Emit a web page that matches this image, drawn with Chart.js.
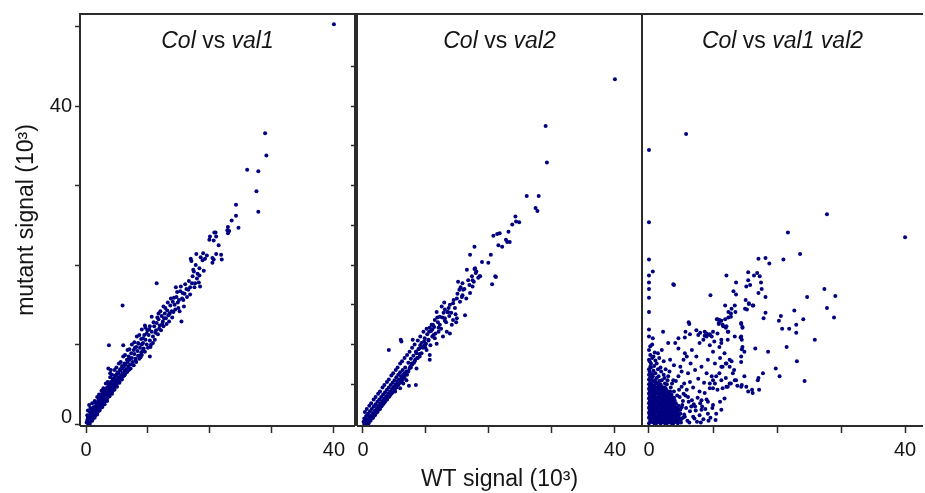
<!DOCTYPE html>
<html>
<head>
<meta charset="utf-8">
<script src="https://cdn.jsdelivr.net/npm/chart.js@4.4.1/dist/chart.umd.min.js"></script>
<style>
  html, body { margin: 0; padding: 0; background: #fff; }
  #wrap { position: relative; width: 925px; height: 493px; overflow: hidden; }
  .panel { position: absolute; top: 0; height: 493px; }
</style>
</head>
<body>
<div id="wrap">
  <div class="panel" style="left:0;width:357px"><canvas id="p1"></canvas></div>
  <div class="panel" style="left:346px;width:298px"><canvas id="p2"></canvas></div>
  <div class="panel" style="left:636px;width:289px"><canvas id="p3"></canvas></div>
</div>
<script>
// values, in units of 10^3 : [WT signal, mutant signal]
const colVsVal1 = [
  [0.1,0.2],[0.2,0.5],[0.3,0.1],[0.3,0.8],[0.4,0.4],[0.5,0.9],[0.5,0.2],[0.6,0.6],[0.7,1.2],[0.7,0.3],
  [0.8,0.9],[0.9,1.5],[0.9,0.6],[1.0,1.1],[1.1,0.7],[1.1,1.7],[1.2,1.3],[1.3,0.9],[1.3,2.0],[1.4,1.5],
  [1.5,1.1],[1.5,2.2],[1.6,1.7],[1.7,1.3],[1.7,2.4],[1.8,2.0],[1.9,1.5],[1.9,2.7],[2.0,2.2],[2.1,1.8],
  [2.1,2.9],[2.2,2.4],[2.3,2.0],[2.3,3.1],[2.4,2.7],[2.5,2.2],[2.5,3.4],[2.6,2.9],[2.7,2.4],[2.7,3.6],
  [2.8,3.1],[2.9,2.7],[2.9,3.8],[3.0,3.3],[3.1,2.9],[3.1,4.0],[3.2,3.6],[3.3,3.1],[3.3,4.3],[3.4,3.8],
  [3.5,3.3],[3.5,4.5],[3.6,4.0],[3.7,3.6],[3.7,4.8],[3.8,4.2],[3.9,3.8],[3.9,5.0],[4.0,4.5],[4.1,4.0],
  [4.1,5.2],[4.2,4.7],[4.3,4.2],[4.3,5.5],[4.4,4.9],[4.5,4.5],[4.5,5.7],[4.6,5.1],[4.7,4.7],[4.7,6.0],
  [4.8,5.4],[4.9,5.0],[4.9,6.2],[5.0,5.6],[5.1,5.2],[5.2,6.4],[5.3,5.9],[5.4,5.4],[5.5,6.7],[5.6,6.1],
  [5.7,5.7],[5.8,7.0],[5.9,6.4],[6.0,6.0],[6.1,7.2],[6.2,6.7],[6.3,6.3],[6.4,7.5],[6.5,6.9],[6.6,6.5],
  [6.7,7.8],[6.8,7.2],[6.9,6.8],[7.0,8.1],[7.1,7.5],[7.2,7.0],[7.4,8.3],[7.5,7.8],[7.7,7.4],[7.8,8.8],
  [8.0,8.2],[8.1,7.8],[8.3,9.2],[8.4,8.6],[8.4,10.2],[8.6,8.2],[8.7,9.6],[8.9,9.0],[9.0,8.7],[9.2,10.2],
  [9.2,10.8],[9.3,9.5],[9.5,9.1],[9.6,10.6],[9.8,10.0],[9.8,11.4],[10.0,9.6],[10.1,11.2],[10.3,10.5],[10.3,12.3],
  [10.3,8.5],[10.5,10.0],[10.6,11.6],[10.6,13.5],[10.8,11.0],[11.0,12.3],[11.1,10.6],[11.3,11.8],[11.4,12.7],[11.6,11.3],
  [11.7,13.2],[11.7,13.9],[11.9,12.4],[12.1,11.8],[12.2,13.6],[12.4,12.9],[12.5,14.8],[12.5,12.3],[12.7,13.9],[12.9,13.3],
  [13.1,14.3],[13.3,13.7],[13.4,12.9],[13.6,14.9],[13.8,14.2],[14.0,15.4],[14.1,14.1],[14.3,15.0],[14.5,17.2],[14.6,16.0],
  [14.8,15.3],[14.9,14.6],[15.2,16.7],[15.4,12.9],[15.5,15.8],[15.7,15.6],[15.9,16.4],[16.2,17.0],[16.5,16.9],[16.8,16.3],
  [0.3,1.7],[0.7,2.0],[1.0,2.6],[1.4,2.9],[1.8,3.4],[2.1,3.7],[2.5,4.2],[2.8,4.5],[3.2,5.1],[3.5,5.3],
  [3.9,5.9],[4.2,6.2],[4.6,6.8],[4.9,7.1],[5.3,7.6],[5.6,7.8],[6.0,8.5],[6.3,8.7],[6.7,9.3],[7.0,9.4],
  [7.4,10.0],[7.8,10.3],[8.2,11.0],[8.6,11.2],[9.0,11.9],[9.5,12.4],
  [0.2,1.1],[0.6,1.5],[0.9,1.9],[1.2,2.1],[1.6,2.6],[2.0,3.0],[2.3,3.3],[2.6,3.8],[3.0,4.1],[3.4,4.6],
  [3.7,5.0],[4.0,5.3],[4.4,5.7],[4.8,6.1],[5.1,6.5],[5.5,6.9],[5.8,7.3],[6.2,7.6],[6.6,8.1],[6.9,8.5],
  [7.3,8.9],[7.7,9.3],[8.1,9.7],[8.5,10.1],[8.9,10.7],[9.4,11.2],[9.9,11.8],
  [0.6,0.0],[1.0,0.4],[1.4,0.8],[1.8,1.2],[2.2,1.7],[2.6,2.1],[3.0,2.5],[3.4,2.9],[3.8,3.5],[4.2,3.8],
  [4.6,4.3],[5.0,4.7],[5.4,5.2],[5.8,5.6],[6.2,6.1],[6.6,6.6],[7.0,6.9],[7.5,7.5],[8.0,8.0],[8.5,8.6],[9.1,9.2],
  [10.2,11.9],[10.4,9.7],[10.9,12.8],[11.2,11.5],[11.5,13.4],[11.8,12.0],[12.0,14.2],[12.3,12.6],[12.6,13.3],[12.8,14.6],
  [13.0,12.6],[13.2,15.3],[13.5,13.9],[13.7,15.8],[13.9,13.4],[14.2,15.9],[14.4,14.4],[14.7,16.6],[15.0,15.6],[15.1,14.2],
  [15.3,17.3],[15.6,16.5],[15.8,14.8],[16.0,17.6],[16.3,16.0],[16.6,18.0],[16.8,17.2],[9.6,12.1],[10.8,10.2],[9.0,10.0],
  [8.8,8.4],[7.9,9.6],
  [11.4,17.7],[5.9,14.9],[3.7,9.9],[6.0,9.9],[3.6,7.0],[3.9,6.4],[0.5,2.4],[4.0,6.8],
  [16.9,20.8],[17.0,20.5],[17.1,17.7],[17.2,18.6],[17.3,19.4],[17.4,19.2],[17.5,17.2],[17.6,17.7],[17.7,20.0],[17.8,21.4],
  [17.9,18.3],[18.0,18.9],[18.2,17.8],[18.3,18.7],[18.3,19.6],[18.4,17.3],[18.5,21.0],[18.8,20.6],[18.9,21.5],[19.0,19.3],
  [19.2,20.8],[19.5,21.2],[19.9,23.2],[20.0,23.6],[20.4,20.9],[20.4,20.3],[20.6,20.7],[20.6,23.1],[20.7,24.1],[20.9,24.1],
  [21.0,21.4],[21.0,23.6],[21.4,22.5],[21.8,21.3],[21.9,20.7],[22.8,24.4],[22.9,24.8],[22.9,24.0],[23.1,24.3],[23.5,25.6],
  [24.2,27.6],[24.2,26.2],[24.6,24.7],[26.0,32.0],[27.8,31.8],[27.5,29.3],[27.8,26.7],[28.9,36.6],[29.1,33.8],[40.0,50.3]
];

const colVsVal2 = [
  [0.1,0.3],[0.2,0.0],[0.2,0.7],[0.4,0.4],[0.5,0.1],[0.5,1.0],[0.7,0.6],[0.8,0.3],[0.8,1.3],[1.0,0.9],
  [1.1,0.5],[1.1,1.6],[1.3,1.1],[1.4,0.7],[1.4,1.9],[1.6,1.4],[1.7,1.0],[1.7,2.2],[1.9,1.7],[2.0,1.3],
  [2.0,2.5],[2.2,2.0],[2.3,1.6],[2.3,2.8],[2.5,2.3],[2.6,1.9],[2.6,3.1],[2.8,2.6],[2.9,2.2],[2.9,3.4],
  [3.1,2.9],[3.2,2.5],[3.2,3.7],[3.4,3.2],[3.5,2.8],[3.5,4.0],[3.7,3.5],[3.8,3.1],[3.8,4.3],[4.0,3.8],
  [4.1,3.4],[4.1,4.6],[4.3,4.1],[4.4,3.7],[4.4,4.9],[4.6,4.4],[4.7,4.0],[4.7,5.2],[4.9,4.7],[5.0,4.3],
  [5.0,5.5],[5.2,5.0],[5.3,4.6],[5.3,5.9],[5.5,5.3],[5.6,4.9],[5.6,6.2],[5.8,5.6],[5.9,5.2],[5.9,6.5],
  [6.1,6.0],[6.2,5.5],[6.3,6.8],[6.5,6.3],[6.6,5.8],[6.7,7.1],[6.9,6.6],[7.0,6.2],
  [7.2,7.7],[7.4,7.0],[7.6,8.2],[7.8,7.5],[8.0,8.6],[8.2,7.9],[8.4,9.1],[8.6,8.3],[8.8,9.4],[9.0,8.8],
  [9.3,10.2],[9.5,9.6],[9.8,10.8],[10.0,10.1],[10.2,11.3],[10.4,10.5],[10.8,11.7],[11.0,11.0],[11.3,12.2],[11.5,11.4],
  [11.9,12.8],[12.2,12.5],[12.6,13.4],[13.0,13.0],[13.4,14.1],[13.7,13.6],
  [0.3,1.5],[0.6,1.9],[1.0,2.3],[1.3,2.6],[1.7,3.1],[2.0,3.4],[2.4,3.8],[2.7,4.1],[3.1,4.6],[3.4,4.9],
  [3.8,5.3],[4.1,5.6],[4.5,6.1],[4.8,6.4],[5.2,6.8],[5.5,7.1],[5.9,7.6],[6.2,7.9],[6.6,8.3],[7.0,8.7],
  [7.4,9.1],[7.8,9.6],[8.2,10.0],[8.7,10.5],[9.1,11.0],[9.6,11.6],[10.1,12.0],
  [0.9,0.1],[1.2,0.4],[1.6,0.8],[1.9,1.1],[2.3,1.5],[2.7,1.9],[3.0,2.3],[3.4,2.7],[3.8,3.1],[4.2,3.5],
  [4.6,3.9],[5.0,4.4],[5.4,4.8],[5.8,5.2],[6.2,5.7],[6.6,6.1],[7.1,6.6],[7.6,7.1],[8.1,7.7],[8.7,8.3],
  [9.3,8.9],[9.9,9.6],
  [10.5,11.6],[10.7,9.9],[11.1,12.5],[11.4,10.8],[11.8,13.4],[12.0,11.6],[12.4,12.0],[12.8,14.0],[13.2,12.8],[13.6,14.6],
  [14.0,14.0],[14.4,15.6],[14.7,13.8],[15.0,16.4],[15.4,15.4],[15.8,16.2],[16.1,17.0],[16.4,15.8],[16.7,18.1],[14.8,12.8],
  [12.9,15.3],[11.0,11.9],[9.7,10.4],[9.1,9.9],
  [5.1,4.1],[5.6,5.5],[5.9,4.5],[6.1,6.0],[6.4,5.1],[6.7,6.4],[6.9,5.5],[7.2,6.6],[7.5,7.2],[7.7,7.6],
  [8.3,8.1],[8.5,7.0],[8.5,8.9],[9.0,8.5],[8.9,9.5],[9.3,9.7],[9.8,9.9],[10.1,9.3],[10.6,8.7],[10.6,8.1],
  [10.4,10.6],[11.2,11.2],[10.6,12.1],[10.9,12.5],[12.0,12.1],[12.7,11.0],[13.3,11.6],[13.8,11.4],[11.4,13.1],[12.2,13.5],
  [11.7,14.1],[13.0,14.4],[12.5,14.8],[14.1,12.5],[14.3,13.1],[13.0,13.3],[14.9,13.3],[13.5,14.1],[14.6,14.6],[13.8,15.0],
  [14.3,15.2],[14.9,15.8],[15.7,16.0],[16.2,13.7],[15.1,17.9],[15.5,17.2],[15.9,16.9],[15.3,16.9],[15.8,17.7],[16.5,19.4],
  [17.8,19.6],[18.0,19.2],[17.3,18.6],[18.3,18.4],[17.6,17.9],[17.4,17.3],[17.0,16.5],[16.9,17.5],[17.4,18.1],[17.9,19.0],
  [18.5,18.6],[17.7,22.3],[17.0,21.3],[20.3,21.3],[18.9,20.4],[19.9,20.3],[17.7,19.5],[18.6,18.6],[21.1,18.5],[20.5,17.6],
  [21.0,18.6],[4.1,9.3],[6.0,10.6],[6.1,10.4],[7.9,10.6],[11.7,10.1],[7.3,4.8],[8.4,4.9],
  [20.7,23.7],[21.3,23.9],[21.7,24.0],[22.7,23.2],[22.9,22.9],[23.3,22.9],[21.5,22.5],[22.1,22.3],[23.1,24.2],[23.7,25.1],
  [24.2,26.1],[24.3,25.5],[24.8,25.4],[27.4,27.2],[27.7,26.8],[26.0,28.7],[27.9,28.7],[29.2,32.9],[29.0,37.5],[40.0,43.4]
];

const colVsVal1Val2 = [
  [0.0,0.1],[0.4,0.3],[0.9,0.0],[1.3,0.2],[1.8,0.1],[2.2,0.3],[2.7,0.0],[3.1,0.2],[3.6,0.1],[4.0,0.3],[4.5,0.1],[5.0,0.2],
  [0.2,0.5],[0.6,0.6],[1.1,0.4],[1.5,0.6],[2.0,0.5],[2.4,0.4],[2.9,0.6],[3.3,0.5],[3.8,0.4],[4.2,0.6],[4.7,0.5],
  [0.0,0.8],[0.4,0.9],[0.8,0.7],[1.3,0.9],[1.7,0.8],[2.2,0.7],[2.6,0.9],[3.0,0.8],[3.5,0.7],[3.9,0.9],[4.4,0.8],[5.3,0.8],
  [0.2,1.1],[0.6,1.2],[1.0,1.0],[1.5,1.2],[1.9,1.1],[2.4,1.0],[2.8,1.2],[3.2,1.1],[3.7,1.0],[4.1,1.2],[4.6,1.1],
  [0.0,1.4],[0.4,1.5],[0.8,1.3],[1.2,1.5],[1.7,1.4],[2.1,1.3],[2.6,1.5],[3.0,1.4],[3.4,1.3],[3.9,1.5],[4.3,1.4],[4.9,1.3],
  [0.2,1.7],[0.6,1.8],[1.0,1.6],[1.4,1.8],[1.9,1.7],[2.3,1.6],[2.8,1.8],[3.2,1.7],[3.6,1.6],[4.1,1.8],[4.5,1.7],
  [0.0,2.0],[0.4,2.1],[0.8,1.9],[1.3,2.1],[1.7,2.0],[2.1,1.9],[2.5,2.1],[3.0,2.0],[3.4,1.9],[3.8,2.1],[4.3,2.0],[5.1,2.1],
  [0.2,2.3],[0.6,2.4],[1.0,2.2],[1.5,2.4],[1.9,2.3],[2.3,2.2],[2.7,2.4],[3.2,2.3],[3.6,2.2],[4.0,2.4],[4.6,2.3],
  [0.0,2.6],[0.4,2.7],[0.8,2.5],[1.2,2.7],[1.7,2.6],[2.1,2.5],[2.5,2.7],[2.9,2.6],[3.4,2.5],[3.8,2.7],[4.2,2.6],
  [0.2,2.9],[0.6,3.0],[1.0,2.8],[1.4,3.0],[1.9,2.9],[2.3,2.8],[2.7,3.0],[3.1,2.9],[3.6,2.8],[4.0,3.0],
  [0.0,3.2],[0.4,3.3],[0.8,3.1],[1.3,3.3],[1.7,3.2],[2.1,3.1],[2.5,3.3],[3.0,3.2],[3.4,3.1],[3.9,3.3],
  [0.2,3.5],[0.6,3.6],[1.0,3.4],[1.5,3.6],[1.9,3.5],[2.3,3.4],[2.8,3.6],[3.2,3.5],[3.6,3.4],
  [0.0,3.8],[0.4,3.9],[0.8,3.7],[1.2,3.9],[1.7,3.8],[2.1,3.7],[2.6,3.9],[3.0,3.8],[3.5,3.7],
  [0.2,4.1],[0.6,4.2],[1.0,4.0],[1.4,4.2],[1.9,4.1],[2.3,4.0],[2.8,4.2],[3.3,4.1],
  [0.0,4.4],[0.4,4.5],[0.8,4.3],[1.3,4.5],[1.7,4.4],[2.2,4.3],[2.6,4.5],
  [0.2,4.7],[0.6,4.8],[1.1,4.6],[1.5,4.8],[2.0,4.7],[2.4,4.6],
  [0.0,5.0],[0.4,5.1],[0.9,4.9],[1.3,5.1],[1.8,5.0],
  [0.2,5.3],[0.7,5.4],[1.1,5.2],[1.6,5.4],[0.0,5.6],[0.4,5.7],[0.9,5.5],[0.2,5.9],[0.6,6.0],[1.2,5.8],
  [0.0,6.2],[0.4,6.3],[0.1,6.6],[0.7,6.7],[0.0,6.9],[0.3,7.1],
  [0.2,0.3],[0.7,0.2],[1.1,0.1],[1.6,0.3],[2.0,0.2],[2.5,0.1],[2.9,0.3],[3.4,0.2],[3.8,0.1],[4.3,0.3],
  [0.1,1.0],[0.6,0.9],[1.0,0.8],[1.5,0.9],[1.9,0.8],[2.4,0.7],[2.8,0.9],[3.3,0.8],[3.7,0.7],[4.2,0.9],[4.7,0.8],
  [0.1,1.6],[0.5,1.5],[1.0,1.4],[1.4,1.5],[1.9,1.4],[2.3,1.3],[2.7,1.5],[3.2,1.4],[3.7,1.3],[4.1,1.5],[4.6,1.4],
  [0.1,2.2],[0.5,2.1],[1.0,2.0],[1.5,2.1],[1.9,2.0],[2.3,1.9],[2.8,2.1],[3.2,2.0],[3.6,1.9],[4.1,2.1],[4.5,2.0],
  [0.1,2.8],[0.5,2.7],[1.0,2.6],[1.4,2.7],[1.9,2.6],[2.3,2.5],[2.7,2.7],[3.2,2.6],[3.6,2.5],[4.0,2.7],
  [0.1,3.4],[0.5,3.3],[1.0,3.2],[1.4,3.3],[1.9,3.2],[2.3,3.1],[2.7,3.3],[3.2,3.2],[3.6,3.1],
  [0.1,4.0],[0.5,3.9],[1.0,3.8],[1.4,3.9],[1.9,3.8],[2.4,3.7],[2.8,3.9],[3.1,3.7],
  [0.1,4.6],[0.5,4.5],[1.0,4.4],[1.5,4.5],[1.9,4.4],[2.3,4.3],
  [0.3,7.6],[0.8,7.3],[0.1,7.9],[0.5,8.3],[1.0,8.0],[1.6,8.3],[0.9,9.0],[1.9,6.6],[2.3,6.2],[1.4,6.9],
  [2.8,5.0],[2.4,5.8],
  [0.2,8.7],[0.0,8.1],[0.7,8.5],[1.4,8.9],[2.0,9.3],[1.2,7.6],[2.3,7.9],[3.3,8.1],[3.0,10.2],[4.1,10.2],
  [4.6,9.5],[5.6,8.9],[5.4,8.1],[5.9,8.5],[6.7,9.3],[7.4,8.5],[7.9,10.2],[8.5,10.6],[9.0,11.0],[9.5,9.9],
  [10.0,9.1],[9.2,8.1],[10.3,7.6],[11.1,8.3],[11.3,7.2],[12.1,7.6],[12.9,7.9],[14.4,8.5],[11.3,10.2],[12.3,10.6],
  [13.4,11.0],[14.4,11.0],[8.2,7.2],[7.2,6.8],[6.1,6.4],[5.1,6.6],[4.6,6.0],[3.8,5.5],[3.0,6.0],[2.5,5.1],
  [2.0,5.5],[1.5,6.0],[1.0,6.4],[0.5,5.5],[0.2,7.2],[0.5,6.2],[9.0,6.4],[9.8,6.0],[10.3,5.1],[11.3,5.5],
  [12.1,4.7],[12.6,5.1],[13.4,5.5],[14.4,4.7],[15.5,4.1],[9.5,4.5],[8.7,3.9],[8.2,3.0],[9.2,2.8],[10.0,2.4],
  [11.1,2.8],[11.8,3.2],[11.3,1.8],[10.5,1.3],[9.2,1.3],[8.2,1.8],[7.2,2.2],[6.7,3.0],[6.1,3.4],[5.9,4.3],
  [5.4,3.8],[5.1,4.7],[4.8,3.4],[5.3,2.9],[5.7,3.6],[6.6,2.2],[7.3,1.7],[8.3,2.2],[9.0,3.1],[9.9,2.0],
  [4.9,1.8],[5.6,0.9],[6.3,0.2],[7.1,0.7],[8.1,0.2],[9.3,0.4],[5.0,0.6],[5.5,1.2],[6.0,0.4],[6.4,1.6],
  [6.9,0.9],[7.5,0.3],[7.9,1.1],[8.5,0.6],[5.2,2.4],[5.8,2.0],[6.2,2.8],[7.0,2.5],[7.6,3.3],[8.0,2.6],
  [8.8,1.9],[9.6,0.8],[10.4,0.5],[3.4,4.6],[3.9,4.1],[4.4,3.6],[4.7,4.3],[3.6,5.1],[4.2,5.4],[2.9,5.5],
  [3.2,6.6],[2.6,6.9],[1.8,7.1],[3.9,7.4],[4.9,7.2],[6.5,7.6],[7.7,5.7],[8.6,5.2],[6.9,4.6],[7.9,4.1],
  [6.4,5.3],[5.5,5.1],
  [0.0,20.7],[0.0,18.7],[0.6,19.2],[0.0,17.8],[0.0,17.0],[0.0,15.9],[0.0,14.1],[0.0,11.9],[0.0,11.0],[0.6,10.8],
  [0.0,25.4],[0.0,34.5],[0.2,9.8],[0.0,9.3],[0.5,10.0],
  [2.2,11.6],[6.3,12.6],[5.7,11.6],[4.6,10.8],[5.6,10.9],[6.4,11.3],[7.4,11.8],[8.0,11.5],[9.0,11.4],[9.5,11.3],
  [8.7,11.1],[7.7,11.2],[9.8,11.0],[10.7,13.2],[11.3,13.0],[10.9,12.6],[11.9,13.2],[11.9,14.9],[12.4,14.1],[12.8,13.9],
  [12.4,13.4],[11.6,12.3],[12.1,12.3],[12.4,11.6],[6.2,12.8],[3.9,17.5],[5.8,36.5],[9.6,16.2],[12.1,18.7],
  [15.5,19.1],[16.9,19.0],[16.4,18.7],[17.3,18.6],[13.6,17.8],[15.5,18.1],[15.8,17.5],[15.2,17.3],[17.5,17.8],[17.6,17.0],
  [17.1,16.5],[18.2,16.0],[13.2,16.7],[13.6,16.3],[24.7,16.0],[27.4,17.0],[29.1,16.1],[27.8,14.6],[28.9,13.4],[15.1,15.6],
  [15.6,15.1],[16.2,14.9],[15.3,14.4],[13.4,14.9],[12.9,14.5],[13.5,14.1],[12.8,13.5],[11.2,13.0],[10.9,12.7],[12.3,11.6],
  [14.4,12.6],[14.6,12.1],[14.3,10.9],[18.2,14.0],[17.9,13.3],[22.7,14.3],[24.1,13.2],[23.0,12.5],[23.0,11.5],[20.6,13.6],
  [20.3,13.0],[20.8,12.0],[21.9,12.0],[21.5,9.7],[25.9,10.6],[14.5,9.4],[16.6,9.5],[23.1,7.9],[24.3,5.4],[19.8,7.0],
  [20.4,6.0],[18.6,9.1],[17.8,6.4],[17.1,5.8],[17.0,5.5],[17.2,4.3],[16.1,4.3],[16.2,3.9],[13.8,4.8],[14.5,4.9],
  [15.2,4.7],[14.9,6.0],[13.6,5.5],[13.1,6.4],[12.6,7.2],[12.0,7.6],[11.5,7.2],[11.0,6.4],[10.5,6.0],[10.0,5.5],
  [9.5,5.1],[10.0,4.5],[10.7,4.3],[11.5,4.5],[12.3,4.7],[12.8,5.1],[12.0,5.8],[13.3,6.8],[14.4,7.8],[12.6,8.1],
  [11.8,8.9],[11.0,9.7],[10.2,10.4],[9.5,11.2],[8.7,11.6],[10.0,11.6],[10.7,11.4],[11.3,10.6],[12.0,12.1],[10.6,13.2],
  [11.0,13.1],[11.5,12.5],[14.4,12.7],[14.6,12.2],[15.0,14.5],[15.6,15.2],[16.3,14.9],[14.5,10.6],[14.6,9.7],[14.9,9.1],
  [27.8,26.4],[21.7,24.1],[40.0,23.5],[23.6,21.4],[21.0,20.7],[17.1,20.8],[18.2,20.9],[18.8,20.2],[3.8,17.6]
];

const labelledTicks = [0, 40];
const panelTitles = [
  [['Col', true], [' vs ', false], ['val1', true]],
  [['Col', true], [' vs ', false], ['val2', true]],
  [['Col', true], [' vs ', false], ['val1 val2', true]]
];

const FONT = "'Liberation Sans', Arial, Helvetica, sans-serif";
const INK = '#000080';
const LINE = '#2b2b2b';
const TEXT = '#151515';

// frame round the plot area plus the italic title inside it
const framePlugin = {
  id: 'frame',
  afterDraw(chart, args, opts) {
    const { ctx, chartArea: a } = chart;
    ctx.save();
    ctx.strokeStyle = LINE;
    ctx.lineWidth = 2;
    ctx.beginPath();
    ctx.moveTo(a.left, a.bottom); ctx.lineTo(a.left, a.top); ctx.lineTo(a.right, a.top);
    if (opts.right) { ctx.lineTo(a.right, a.bottom); }
    ctx.moveTo(a.left, a.bottom); ctx.lineTo(a.right, a.bottom);
    ctx.stroke();

    const parts = (opts.title || []).map(([t, it]) => {
      ctx.font = (it ? 'italic ' : '') + '23px ' + FONT;
      return { t, it, w: ctx.measureText(t).width };
    });
    const total = parts.reduce((s, p) => s + p.w, 0);
    let x = (a.left + a.right) / 2 - total / 2;
    ctx.fillStyle = TEXT;
    ctx.textBaseline = 'alphabetic';
    ctx.textAlign = 'left';
    parts.forEach(p => {
      ctx.font = (p.it ? 'italic ' : '') + '23px ' + FONT;
      ctx.fillText(p.t, x, a.top + 34);
      x += p.w;
    });
    ctx.restore();
  }
};

function xAxis(min, max, title) {
  return {
    type: 'linear', min, max,
    afterFit: s => { s.height = 67; },
    ticks: {
      stepSize: 10, includeBounds: false, autoSkip: false, maxRotation: 0,
      padding: 5, color: TEXT, font: { family: FONT, size: 20 },
      callback: v => labelledTicks.includes(v) ? String(v) : ''
    },
    grid: { drawOnChartArea: false, tickLength: 7, tickColor: LINE, tickWidth: 1.5 },
    border: { display: false },
    title: title
      ? { display: true, text: title, color: TEXT, font: { family: FONT, size: 23 }, padding: { top: 0, bottom: 0 } }
      : { display: false }
  };
}

function makePanel(id, points, opts) {
  return new Chart(document.getElementById(id), {
    type: 'scatter',
    data: {
      datasets: [{
        data: points.map(([x, y]) => ({ x, y })),
        pointRadius: 2, pointHoverRadius: 2,
        backgroundColor: INK, borderWidth: 0
      }]
    },
    options: {
      responsive: true, maintainAspectRatio: false, animation: false, events: [],
      layout: { padding: opts.padding },
      plugins: {
        legend: { display: false }, tooltip: { enabled: false },
        frame: { right: opts.right, title: opts.title }
      },
      scales: { x: xAxis(opts.xMin, opts.xMax, opts.xTitle), y: opts.y }
    },
    plugins: [framePlugin]
  });
}

const Y_MIN = -0.25, Y_MAX = 51.6;

makePanel('p1', colVsVal1, {
  padding: { top: 14, right: 2, bottom: 0, left: 0 },
  right: true, title: panelTitles[0], xMin: -0.97, xMax: 43.4,
  y: {
    type: 'linear', min: Y_MIN, max: Y_MAX,
    afterFit: s => { s.width = 80; },
    ticks: {
      stepSize: 10, includeBounds: false, padding: 3, color: TEXT,
      font: { family: FONT, size: 20, lineHeight: 0.7 },
      callback: v => v === 0 ? ['0', ''] : (labelledTicks.includes(v) ? String(v) : '')
    },
    grid: { drawOnChartArea: false, tickLength: 5, tickColor: LINE, tickWidth: 1.5 },
    border: { display: false },
    title: { display: true, text: 'mutant signal (10³)', color: TEXT, font: { family: FONT, size: 23 }, padding: { top: 13, bottom: 0 } }
  }
});

makePanel('p2', colVsVal2, {
  padding: { top: 14, right: 2, bottom: 0, left: 0 },
  right: true, title: panelTitles[1], xMin: -0.95, xMax: 44.3, xTitle: 'WT signal (10³)',
  y: {
    type: 'linear', min: Y_MIN, max: Y_MAX,
    afterFit: s => { s.width = 11; },
    afterBuildTicks: s => { s.ticks = s.ticks.filter(t => t.value > 0 && t.value <= 45); },
    ticks: { stepSize: 5, includeBounds: false, display: false },
    grid: { drawOnChartArea: false, tickLength: 6, tickColor: LINE, tickWidth: 1.5 },
    border: { display: false }
  }
});

makePanel('p3', colVsVal1Val2, {
  padding: { top: 14, right: 0, bottom: 0, left: 6 },
  right: false, title: panelTitles[2], xMin: -1.09, xMax: 42.8,
  y: { type: 'linear', min: Y_MIN, max: Y_MAX, display: false }
});
</script>
</body>
</html>
